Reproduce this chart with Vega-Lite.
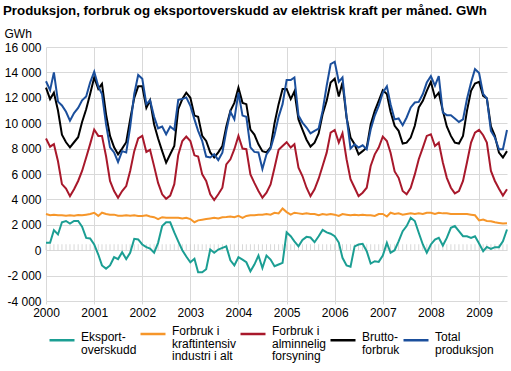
{
  "$schema": "https://vega.github.io/schema/vega-lite/v6.json",
  "width": 461,
  "height": 254,
  "autosize": "none",
  "padding": {"left": 46, "top": 47, "right": 4, "bottom": 70},
  "background": "white",
  "config": {
    "font": "Liberation Sans",
    "view": {"stroke": null},
    "axis": {"gridColor": "#d9d9d9", "gridWidth": 1, "labelFontSize": 12, "labelColor": "#000000", "labelFont": "Liberation Sans"}
  },
  "title": {"text": "Produksjon, forbruk og eksportoverskudd av elektrisk kraft per måned. GWh", "anchor": "start", "frame": "group", "dx": -43, "fontSize": 13.3, "fontWeight": "bold", "color": "#000000", "font": "Liberation Sans", "offset": 10},
  "data": {
    "format": {"parse": {"dato": "date:'%Y-%m'"}},
    "values": [
      {"dato":"2000-01","eksport":580,"kraftintensiv":2850,"alminnelig":8800,"brutto":12800,"total":13300},
      {"dato":"2000-02","eksport":580,"kraftintensiv":2750,"alminnelig":8150,"brutto":11900,"total":12600},
      {"dato":"2000-03","eksport":1580,"kraftintensiv":2800,"alminnelig":8350,"brutto":12400,"total":14000},
      {"dato":"2000-04","eksport":1240,"kraftintensiv":2750,"alminnelig":7000,"brutto":11000,"total":11700},
      {"dato":"2000-05","eksport":2200,"kraftintensiv":2750,"alminnelig":5200,"brutto":9100,"total":11400},
      {"dato":"2000-06","eksport":2300,"kraftintensiv":2720,"alminnelig":4850,"brutto":8500,"total":10900},
      {"dato":"2000-07","eksport":2100,"kraftintensiv":2750,"alminnelig":4260,"brutto":8100,"total":10200},
      {"dato":"2000-08","eksport":2300,"kraftintensiv":2720,"alminnelig":4800,"brutto":8500,"total":10800},
      {"dato":"2000-09","eksport":2300,"kraftintensiv":2780,"alminnelig":5450,"brutto":8900,"total":11200},
      {"dato":"2000-10","eksport":1850,"kraftintensiv":2750,"alminnelig":6240,"brutto":10100,"total":11800},
      {"dato":"2000-11","eksport":970,"kraftintensiv":2800,"alminnelig":7300,"brutto":11100,"total":12100},
      {"dato":"2000-12","eksport":920,"kraftintensiv":2850,"alminnelig":8350,"brutto":12300,"total":13200},
      {"dato":"2001-01","eksport":450,"kraftintensiv":2950,"alminnelig":9500,"brutto":13600,"total":14050},
      {"dato":"2001-02","eksport":-340,"kraftintensiv":2700,"alminnelig":9000,"brutto":12700,"total":12900},
      {"dato":"2001-03","eksport":-1200,"kraftintensiv":2950,"alminnelig":9000,"brutto":13100,"total":12300},
      {"dato":"2001-04","eksport":-1450,"kraftintensiv":2850,"alminnelig":7400,"brutto":10700,"total":9900},
      {"dato":"2001-05","eksport":-1200,"kraftintensiv":2800,"alminnelig":5450,"brutto":9000,"total":8100},
      {"dato":"2001-06","eksport":-550,"kraftintensiv":2800,"alminnelig":4660,"brutto":8100,"total":7700},
      {"dato":"2001-07","eksport":-700,"kraftintensiv":2720,"alminnelig":4130,"brutto":7550,"total":6950},
      {"dato":"2001-08","eksport":-160,"kraftintensiv":2720,"alminnelig":4660,"brutto":8000,"total":7800},
      {"dato":"2001-09","eksport":-700,"kraftintensiv":2750,"alminnelig":5050,"brutto":8500,"total":7700},
      {"dato":"2001-10","eksport":-200,"kraftintensiv":2720,"alminnelig":6240,"brutto":10300,"total":9700},
      {"dato":"2001-11","eksport":900,"kraftintensiv":2750,"alminnelig":7800,"brutto":12000,"total":12300},
      {"dato":"2001-12","eksport":850,"kraftintensiv":2700,"alminnelig":8800,"brutto":12900,"total":13800},
      {"dato":"2002-01","eksport":450,"kraftintensiv":2700,"alminnelig":9000,"brutto":12900,"total":13500},
      {"dato":"2002-02","eksport":240,"kraftintensiv":2750,"alminnelig":7740,"brutto":11200,"total":11500},
      {"dato":"2002-03","eksport":130,"kraftintensiv":2650,"alminnelig":7900,"brutto":11800,"total":11800},
      {"dato":"2002-04","eksport":-200,"kraftintensiv":2600,"alminnelig":6600,"brutto":9900,"total":10500},
      {"dato":"2002-05","eksport":580,"kraftintensiv":2450,"alminnelig":5300,"brutto":8800,"total":9600},
      {"dato":"2002-06","eksport":1900,"kraftintensiv":2600,"alminnelig":4400,"brutto":7800,"total":9740},
      {"dato":"2002-07","eksport":2200,"kraftintensiv":2550,"alminnelig":4050,"brutto":6900,"total":9130},
      {"dato":"2002-08","eksport":2200,"kraftintensiv":2550,"alminnelig":4300,"brutto":7550,"total":9740},
      {"dato":"2002-09","eksport":1400,"kraftintensiv":2550,"alminnelig":5200,"brutto":8200,"total":9470},
      {"dato":"2002-10","eksport":700,"kraftintensiv":2550,"alminnelig":7500,"brutto":11100,"total":11840},
      {"dato":"2002-11","eksport":0,"kraftintensiv":2500,"alminnelig":8600,"brutto":11900,"total":11900},
      {"dato":"2002-12","eksport":-500,"kraftintensiv":2550,"alminnelig":8950,"brutto":12400,"total":12030},
      {"dato":"2003-01","eksport":-950,"kraftintensiv":2450,"alminnelig":8600,"brutto":12000,"total":11370},
      {"dato":"2003-02","eksport":-680,"kraftintensiv":2200,"alminnelig":7470,"brutto":10600,"total":10300},
      {"dato":"2003-03","eksport":-1740,"kraftintensiv":2350,"alminnelig":7370,"brutto":10500,"total":9400},
      {"dato":"2003-04","eksport":-1740,"kraftintensiv":2400,"alminnelig":5970,"brutto":9000,"total":8600},
      {"dato":"2003-05","eksport":-1500,"kraftintensiv":2450,"alminnelig":5450,"brutto":8600,"total":7370},
      {"dato":"2003-06","eksport":50,"kraftintensiv":2500,"alminnelig":4400,"brutto":7700,"total":7300},
      {"dato":"2003-07","eksport":-200,"kraftintensiv":2550,"alminnelig":3950,"brutto":7300,"total":7550},
      {"dato":"2003-08","eksport":50,"kraftintensiv":2500,"alminnelig":4400,"brutto":7700,"total":7100},
      {"dato":"2003-09","eksport":180,"kraftintensiv":2600,"alminnelig":4920,"brutto":8200,"total":7680},
      {"dato":"2003-10","eksport":300,"kraftintensiv":2620,"alminnelig":6760,"brutto":9740,"total":9400},
      {"dato":"2003-11","eksport":-800,"kraftintensiv":2650,"alminnelig":7160,"brutto":10970,"total":10900},
      {"dato":"2003-12","eksport":-1200,"kraftintensiv":2600,"alminnelig":7950,"brutto":11600,"total":10300},
      {"dato":"2004-01","eksport":-550,"kraftintensiv":2700,"alminnelig":9000,"brutto":12800,"total":12400},
      {"dato":"2004-02","eksport":-740,"kraftintensiv":2550,"alminnelig":8000,"brutto":11600,"total":10600},
      {"dato":"2004-03","eksport":-950,"kraftintensiv":2700,"alminnelig":7950,"brutto":11500,"total":10500},
      {"dato":"2004-04","eksport":-1660,"kraftintensiv":2750,"alminnelig":5970,"brutto":9500,"total":8100},
      {"dato":"2004-05","eksport":-1130,"kraftintensiv":2750,"alminnelig":5300,"brutto":9100,"total":7740},
      {"dato":"2004-06","eksport":-420,"kraftintensiv":2800,"alminnelig":4660,"brutto":8340,"total":7700},
      {"dato":"2004-07","eksport":-1400,"kraftintensiv":2800,"alminnelig":4130,"brutto":7800,"total":6400},
      {"dato":"2004-08","eksport":-420,"kraftintensiv":2850,"alminnelig":4530,"brutto":7700,"total":7550},
      {"dato":"2004-09","eksport":-740,"kraftintensiv":2800,"alminnelig":5180,"brutto":8100,"total":8000},
      {"dato":"2004-10","eksport":-1260,"kraftintensiv":2950,"alminnelig":6500,"brutto":10000,"total":9100},
      {"dato":"2004-11","eksport":-1130,"kraftintensiv":2900,"alminnelig":7900,"brutto":11500,"total":10500},
      {"dato":"2004-12","eksport":-1000,"kraftintensiv":3280,"alminnelig":8200,"brutto":12700,"total":11500},
      {"dato":"2005-01","eksport":1400,"kraftintensiv":3000,"alminnelig":8500,"brutto":12700,"total":13400},
      {"dato":"2005-02","eksport":1100,"kraftintensiv":2800,"alminnelig":8080,"brutto":11900,"total":13400},
      {"dato":"2005-03","eksport":700,"kraftintensiv":2950,"alminnelig":8340,"brutto":12500,"total":13600},
      {"dato":"2005-04","eksport":300,"kraftintensiv":2900,"alminnelig":6500,"brutto":10300,"total":10600},
      {"dato":"2005-05","eksport":800,"kraftintensiv":2850,"alminnelig":5840,"brutto":9500,"total":10050},
      {"dato":"2005-06","eksport":1050,"kraftintensiv":2900,"alminnelig":4920,"brutto":8700,"total":9660},
      {"dato":"2005-07","eksport":1000,"kraftintensiv":2850,"alminnelig":4260,"brutto":8160,"total":9200},
      {"dato":"2005-08","eksport":630,"kraftintensiv":2850,"alminnelig":4800,"brutto":8470,"total":9400},
      {"dato":"2005-09","eksport":1100,"kraftintensiv":2750,"alminnelig":5630,"brutto":9200,"total":9580},
      {"dato":"2005-10","eksport":1600,"kraftintensiv":2850,"alminnelig":6630,"brutto":10700,"total":10970},
      {"dato":"2005-11","eksport":1400,"kraftintensiv":2800,"alminnelig":7680,"brutto":11760,"total":12950},
      {"dato":"2005-12","eksport":1300,"kraftintensiv":2850,"alminnelig":9260,"brutto":13200,"total":14660},
      {"dato":"2006-01","eksport":1100,"kraftintensiv":2800,"alminnelig":9470,"brutto":13500,"total":14840},
      {"dato":"2006-02","eksport":600,"kraftintensiv":2700,"alminnelig":8470,"brutto":12100,"total":13260},
      {"dato":"2006-03","eksport":-600,"kraftintensiv":2850,"alminnelig":9200,"brutto":13200,"total":13600},
      {"dato":"2006-04","eksport":-1200,"kraftintensiv":2800,"alminnelig":7160,"brutto":10450,"total":10500},
      {"dato":"2006-05","eksport":-1300,"kraftintensiv":2750,"alminnelig":5600,"brutto":8870,"total":8000},
      {"dato":"2006-06","eksport":300,"kraftintensiv":2800,"alminnelig":4920,"brutto":8340,"total":8340},
      {"dato":"2006-07","eksport":450,"kraftintensiv":2750,"alminnelig":4260,"brutto":7550,"total":8080},
      {"dato":"2006-08","eksport":500,"kraftintensiv":2800,"alminnelig":4530,"brutto":7800,"total":8260},
      {"dato":"2006-09","eksport":-80,"kraftintensiv":2750,"alminnelig":4920,"brutto":8080,"total":7950},
      {"dato":"2006-10","eksport":-1050,"kraftintensiv":2750,"alminnelig":6630,"brutto":9900,"total":9500},
      {"dato":"2006-11","eksport":-870,"kraftintensiv":2700,"alminnelig":7550,"brutto":10970,"total":10600},
      {"dato":"2006-12","eksport":-920,"kraftintensiv":2850,"alminnelig":8080,"brutto":11760,"total":11370},
      {"dato":"2007-01","eksport":-420,"kraftintensiv":2850,"alminnelig":8950,"brutto":12600,"total":12400},
      {"dato":"2007-02","eksport":580,"kraftintensiv":2650,"alminnelig":8600,"brutto":12300,"total":12900},
      {"dato":"2007-03","eksport":-200,"kraftintensiv":2950,"alminnelig":7680,"brutto":10900,"total":11500},
      {"dato":"2007-04","eksport":0,"kraftintensiv":2850,"alminnelig":6200,"brutto":9800,"total":10300},
      {"dato":"2007-05","eksport":700,"kraftintensiv":2900,"alminnelig":5700,"brutto":9400,"total":10370},
      {"dato":"2007-06","eksport":1500,"kraftintensiv":2800,"alminnelig":4660,"brutto":8400,"total":9840},
      {"dato":"2007-07","eksport":1900,"kraftintensiv":2850,"alminnelig":4400,"brutto":8470,"total":10450},
      {"dato":"2007-08","eksport":2550,"kraftintensiv":2900,"alminnelig":4920,"brutto":8870,"total":11240},
      {"dato":"2007-09","eksport":2300,"kraftintensiv":2850,"alminnelig":5970,"brutto":9800,"total":11630},
      {"dato":"2007-10","eksport":1370,"kraftintensiv":2900,"alminnelig":7160,"brutto":11240,"total":11680},
      {"dato":"2007-11","eksport":450,"kraftintensiv":2850,"alminnelig":8080,"brutto":11760,"total":12300},
      {"dato":"2007-12","eksport":-200,"kraftintensiv":2950,"alminnelig":9000,"brutto":12550,"total":13200},
      {"dato":"2008-01","eksport":450,"kraftintensiv":2950,"alminnelig":9130,"brutto":13260,"total":13700},
      {"dato":"2008-02","eksport":840,"kraftintensiv":2850,"alminnelig":8200,"brutto":12030,"total":12950},
      {"dato":"2008-03","eksport":970,"kraftintensiv":2950,"alminnelig":8470,"brutto":12400,"total":13700},
      {"dato":"2008-04","eksport":370,"kraftintensiv":2900,"alminnelig":6900,"brutto":10970,"total":10840},
      {"dato":"2008-05","eksport":970,"kraftintensiv":2900,"alminnelig":5700,"brutto":9740,"total":10630},
      {"dato":"2008-06","eksport":1760,"kraftintensiv":2850,"alminnelig":4920,"brutto":9000,"total":10630},
      {"dato":"2008-07","eksport":1900,"kraftintensiv":2850,"alminnelig":4470,"brutto":8470,"total":10370},
      {"dato":"2008-08","eksport":1500,"kraftintensiv":2850,"alminnelig":4660,"brutto":8400,"total":10100},
      {"dato":"2008-09","eksport":1100,"kraftintensiv":2850,"alminnelig":5450,"brutto":9000,"total":10300},
      {"dato":"2008-10","eksport":1100,"kraftintensiv":2850,"alminnelig":6900,"brutto":10970,"total":11900},
      {"dato":"2008-11","eksport":970,"kraftintensiv":2800,"alminnelig":8470,"brutto":12550,"total":13200},
      {"dato":"2008-12","eksport":1100,"kraftintensiv":2750,"alminnelig":9260,"brutto":13130,"total":14260},
      {"dato":"2009-01","eksport":530,"kraftintensiv":2350,"alminnelig":9470,"brutto":13260,"total":13950},
      {"dato":"2009-02","eksport":-80,"kraftintensiv":2420,"alminnelig":9050,"brutto":12150,"total":12300},
      {"dato":"2009-03","eksport":260,"kraftintensiv":2300,"alminnelig":8470,"brutto":11950,"total":11950},
      {"dato":"2009-04","eksport":100,"kraftintensiv":2280,"alminnelig":6240,"brutto":9740,"total":9400},
      {"dato":"2009-05","eksport":240,"kraftintensiv":2200,"alminnelig":5450,"brutto":9000,"total":8870},
      {"dato":"2009-06","eksport":240,"kraftintensiv":2150,"alminnelig":4840,"brutto":7680,"total":7950},
      {"dato":"2009-07","eksport":700,"kraftintensiv":2100,"alminnelig":4300,"brutto":7300,"total":7950},
      {"dato":"2009-08","eksport":1630,"kraftintensiv":2120,"alminnelig":4800,"brutto":7800,"total":9470}
    ]
  },
  "layer": [
    {
      "mark": {"type": "tick", "orient": "vertical", "size": 6, "thickness": 1, "color": "#c8c8c8", "yOffset": -3},
      "encoding": {
        "x": {
          "field": "dato", "type": "temporal",
          "scale": {"domain": [{"year": 2000, "month": 1, "date": 1}, {"year": 2009, "month": 8, "date": 1}]},
          "axis": {"title": null, "format": "%Y", "values": [{"year":2000,"month":1,"date":1},{"year":2001,"month":1,"date":1},{"year":2002,"month":1,"date":1},{"year":2003,"month":1,"date":1},{"year":2004,"month":1,"date":1},{"year":2005,"month":1,"date":1},{"year":2006,"month":1,"date":1},{"year":2007,"month":1,"date":1},{"year":2008,"month":1,"date":1},{"year":2009,"month":1,"date":1}], "grid": true, "domain": false, "ticks": true, "tickSize": 3, "tickColor": "#d9d9d9", "labelPadding": 3, "labelFlush": false, "labelOverlap": false}
        },
        "y": {
          "datum": 0, "type": "quantitative",
          "scale": {"domain": [-4000, 16000], "nice": false, "zero": false},
          "axis": {"values": [-4000, -2000, 0, 2000, 4000, 6000, 8000, 10000, 12000, 14000, 16000], "labelOverlap": false, "labelExpr": "(datum.value < 0 ? '-' : '') + replace(format(abs(datum.value), ','), ',', ' ')", "grid": true, "domain": false, "ticks": false, "labelPadding": 5, "title": "GWh", "titleAngle": 0, "titleAlign": "left", "titleBaseline": "alphabetic", "titleX": -42, "titleY": -10, "titleFontWeight": "normal", "titleFontSize": 12, "titleColor": "#000000", "titleFont": "Liberation Sans"}
        }
      }
    },
    {
      "transform": [{"fold": ["eksport", "kraftintensiv", "alminnelig", "brutto", "total"], "as": ["serie", "verdi"]}],
      "mark": {"type": "line", "strokeWidth": 2},
      "encoding": {
        "x": {
          "field": "dato", "type": "temporal",
          "scale": {"domain": [{"year": 2000, "month": 1, "date": 1}, {"year": 2009, "month": 8, "date": 1}]},
          "axis": {"title": null, "format": "%Y", "values": [{"year":2000,"month":1,"date":1},{"year":2001,"month":1,"date":1},{"year":2002,"month":1,"date":1},{"year":2003,"month":1,"date":1},{"year":2004,"month":1,"date":1},{"year":2005,"month":1,"date":1},{"year":2006,"month":1,"date":1},{"year":2007,"month":1,"date":1},{"year":2008,"month":1,"date":1},{"year":2009,"month":1,"date":1}], "grid": true, "domain": false, "ticks": true, "tickSize": 3, "tickColor": "#d9d9d9", "labelPadding": 3, "labelFlush": false, "labelOverlap": false}
        },
        "y": {
          "field": "verdi", "type": "quantitative",
          "scale": {"domain": [-4000, 16000], "nice": false, "zero": false},
          "axis": {"values": [-4000, -2000, 0, 2000, 4000, 6000, 8000, 10000, 12000, 14000, 16000], "labelOverlap": false, "labelExpr": "(datum.value < 0 ? '-' : '') + replace(format(abs(datum.value), ','), ',', ' ')", "grid": true, "domain": false, "ticks": false, "labelPadding": 5, "title": "GWh", "titleAngle": 0, "titleAlign": "left", "titleBaseline": "alphabetic", "titleX": -42, "titleY": -10, "titleFontWeight": "normal", "titleFontSize": 12, "titleColor": "#000000", "titleFont": "Liberation Sans"}
        },
        "color": {
          "field": "serie", "type": "nominal",
          "scale": {"domain": ["eksport", "kraftintensiv", "alminnelig", "brutto", "total"], "range": ["#1b9e93", "#f6962a", "#a8182b", "#000000", "#1b4f9c"]},
          "legend": {"title": null, "orient": "none", "legendX": 2, "legendY": 273, "direction": "horizontal", "columnPadding": -2, "symbolType": "stroke", "symbolSize": 625, "symbolStrokeWidth": 2.5, "labelFontSize": 12, "labelColor": "#000000", "labelFont": "Liberation Sans", "labelOffset": 5, "labelLimit": 200, "labelBaseline": "top",
            "labelExpr": "datum.value == 'eksport' ? ['Eksport-','overskudd'] : datum.value == 'kraftintensiv' ? ['Forbruk i','kraftintensiv','industri i alt'] : datum.value == 'alminnelig' ? ['Forbruk i','alminnelig','forsyning'] : datum.value == 'brutto' ? ['Brutto-','forbruk'] : ['Total','produksjon']",
            "encode": {"labels": {"update": {"lineHeight": {"value": 12.5}, "dy": {"value": -8}}}}}
        }
      }
    }
  ]
}
